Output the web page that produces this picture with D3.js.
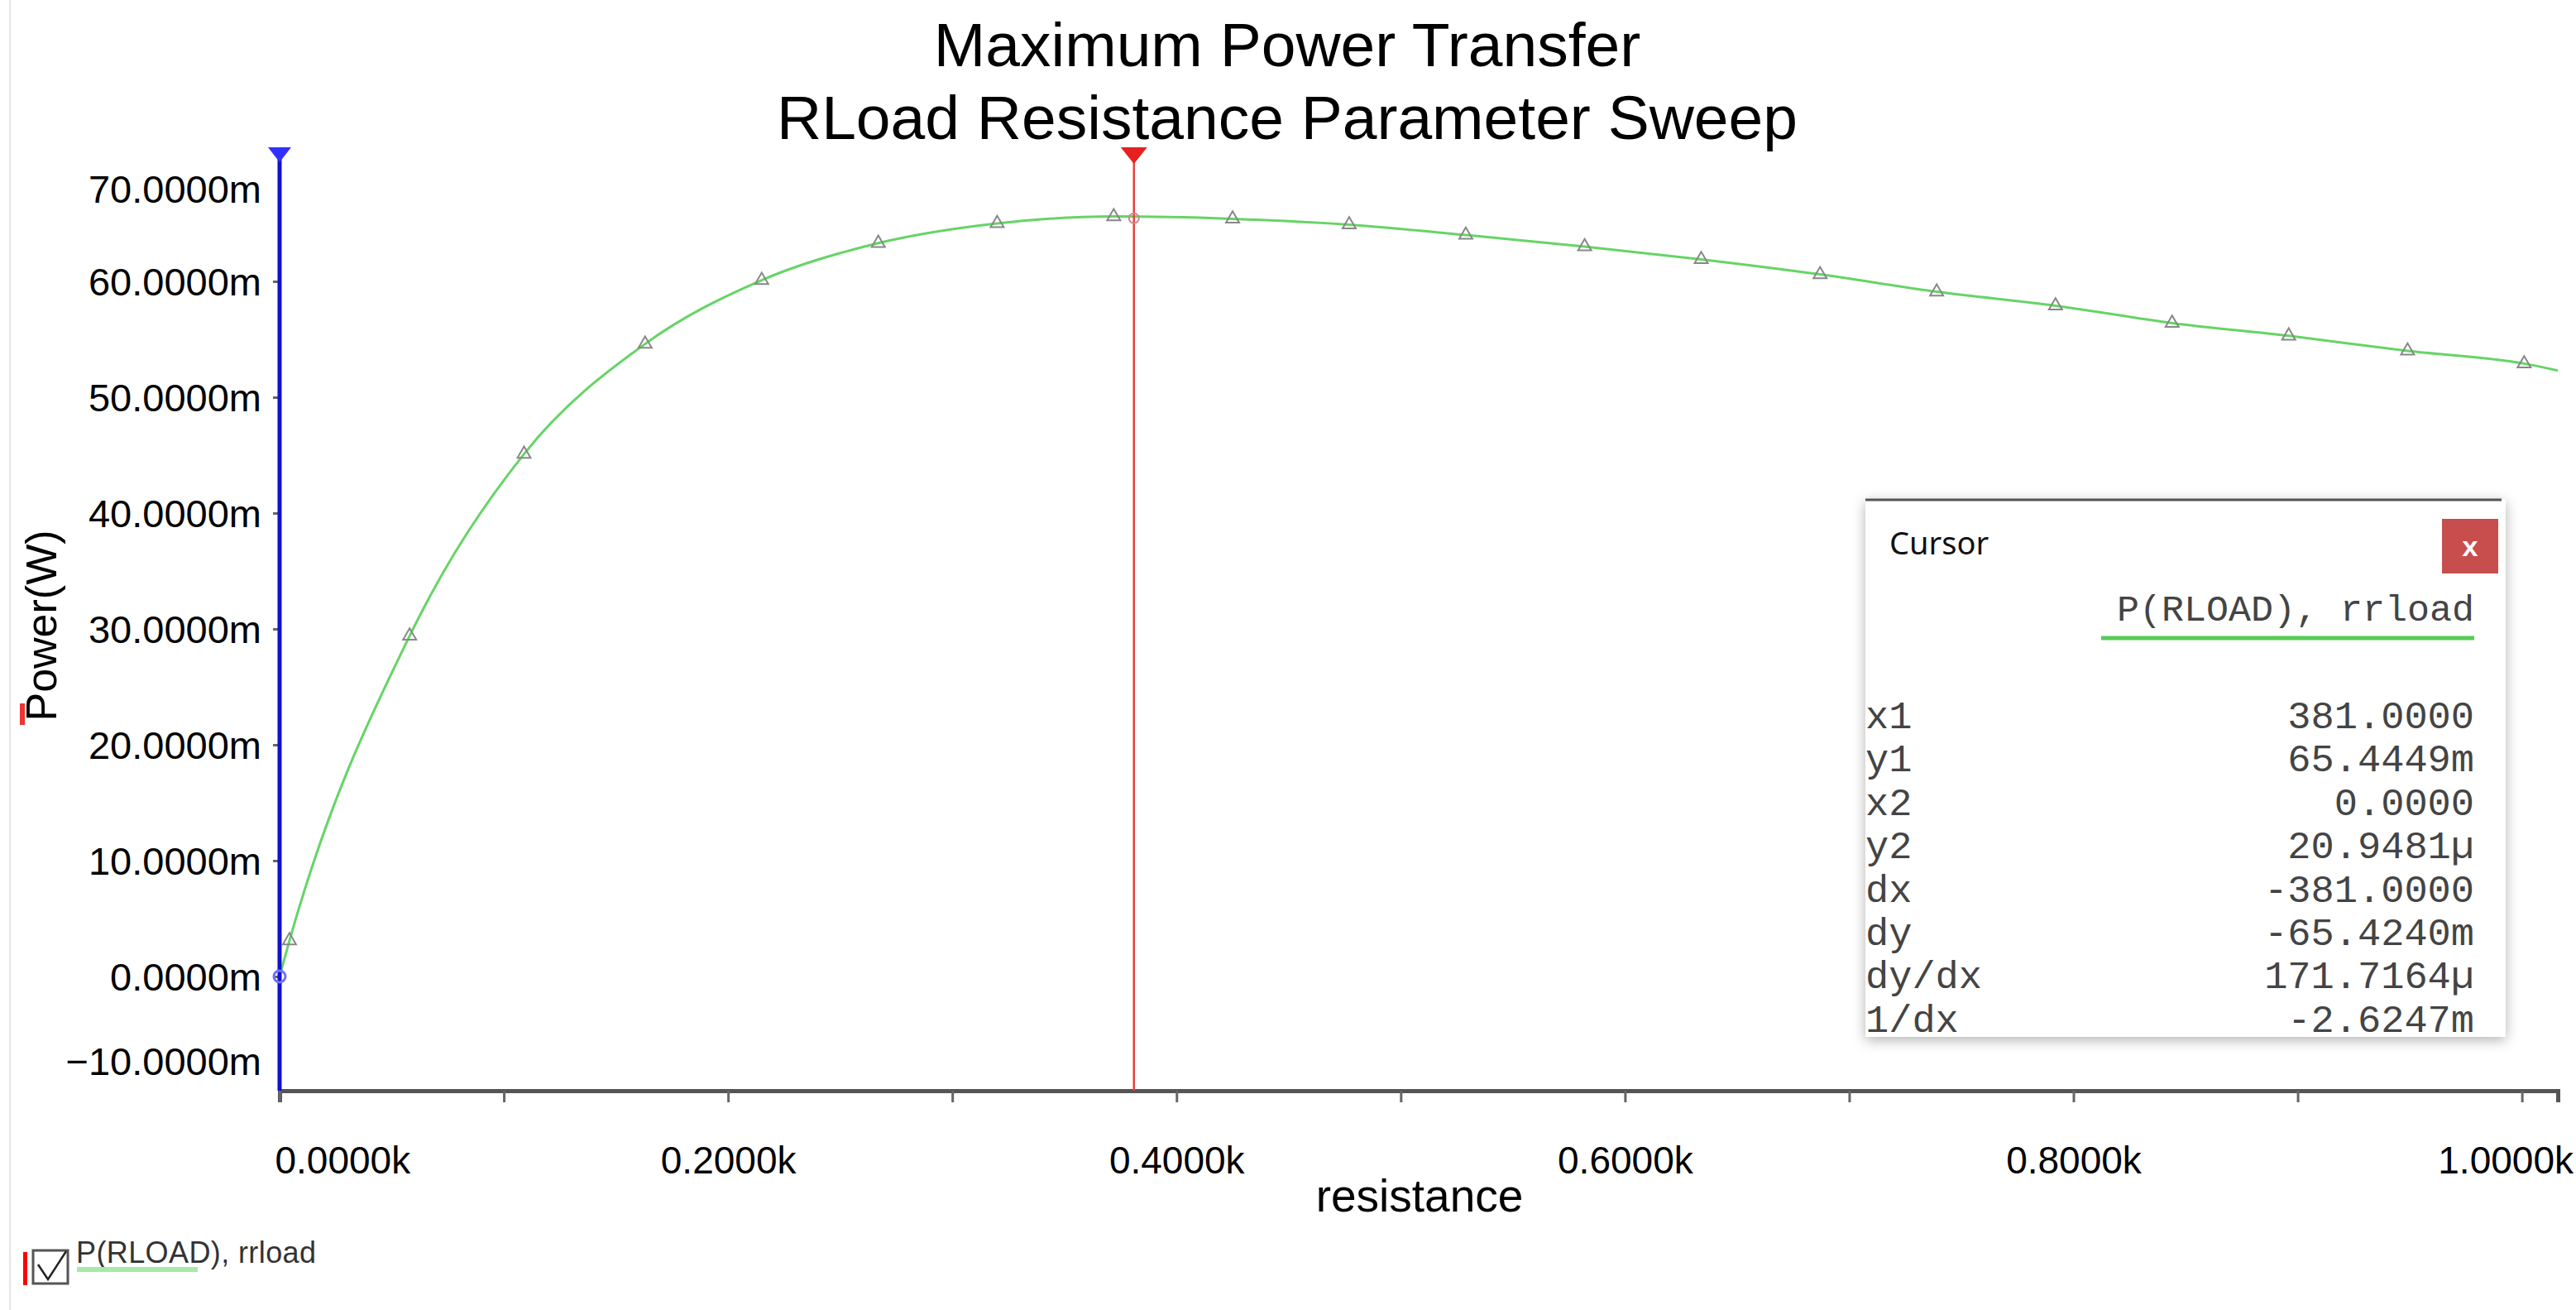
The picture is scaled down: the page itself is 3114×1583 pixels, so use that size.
<!DOCTYPE html>
<html><head><meta charset="utf-8">
<script src="https://cdn.jsdelivr.net/npm/d3@7"></script>
<style>body{margin:0;background:#fff}</style></head>
<body><svg id="c" width="3114" height="1583"></svg>
<script>
const resistance=[0,4.4,58,109,163,215,267,320,372,425,477,529,582,634,687,739,792,844,896,949,1001,1016];
const powerMilli=[0.02,3.1,29.4,45.1,54.6,60.1,63.3,65.0,65.6,65.4,64.9,64.0,63.0,61.9,60.6,59.1,57.9,56.4,55.3,54.0,52.9,52.3];
const yTicks=[-10,0,10,20,30,40,50,60,70];
const xTicks=[0,200,400,600,800,1000];
const cursorRows=[["x1","381.0000"],["y1","65.4449m"],["x2","0.0000"],["y2","20.9481\u00b5"],["dx","-381.0000"],["dy","-65.4240m"],["dy/dx","171.7164\u00b5"],["1/dx","-2.6247m"]];
const cursor1=381, cursor2=0;

const svg=d3.select("#c");
const L=338,R=3092,T=186,B=1318;
const x=d3.scaleLinear().domain([0,1016]).range([L,R]);
const y=d3.scaleLinear().domain([-9.86,71]).range([B,T]);
const F="Arial, 'Liberation Sans', sans-serif";

svg.append("line").attr("x1",12).attr("x2",12).attr("y1",0).attr("y2",1583).attr("stroke","#e6e6e6").attr("stroke-width",2);

svg.append("text").attr("x",1556).attr("y",80).attr("text-anchor","middle").attr("font-family",F).attr("font-size",75).text("Maximum Power Transfer");
svg.append("text").attr("x",1556).attr("y",168).attr("text-anchor","middle").attr("font-family",F).attr("font-size",75).text("RLoad Resistance Parameter Sweep");

// y axis
const ya=svg.append("g").attr("transform",`translate(${L},0)`).call(d3.axisLeft(y).tickValues(yTicks).tickSize(8).tickFormat(d=>d3.format(".4f")(d)+"m"));
ya.select(".domain").remove();
ya.selectAll("line").attr("stroke","#666").attr("stroke-width",3);
ya.selectAll("text").attr("font-family",F).attr("font-size",47).attr("fill","#000").attr("x",-22).attr("dy","0.35em");
ya.selectAll(".tick").filter(d=>d===70).select("text").attr("dy","0.95em");
ya.selectAll(".tick").filter(d=>d===-10).select("text").attr("dy","-0.45em");
ya.selectAll(".tick").filter(d=>d===70||d===-10).select("line").remove();

// x axis
const xa=svg.append("g").attr("transform",`translate(0,${B})`).call(d3.axisBottom(x).tickValues(d3.range(0,1001,100)).tickSize(14).tickFormat(d=>xTicks.includes(d)?d3.format(".4f")(d/1000)+"k":""));
xa.select(".domain").attr("stroke","#555").attr("stroke-width",5);
xa.selectAll("line").attr("stroke","#666").attr("stroke-width",3);
xa.selectAll("text").attr("font-family",F).attr("font-size",46).attr("fill","#000").attr("dy","1.8em");
xa.selectAll(".tick").filter(d=>d===0).select("text").attr("text-anchor","start").attr("dx","-6");
xa.selectAll(".tick").filter(d=>d===1000).select("text").attr("dx","-20");

svg.append("text").attr("x",1716).attr("y",1464).attr("text-anchor","middle").attr("font-family",F).attr("font-size",55).text("resistance");
svg.append("text").attr("transform","translate(68,756) rotate(-90)").attr("text-anchor","middle").attr("font-family",F).attr("font-size",52).text("Power(W)");
svg.append("rect").attr("x",24).attr("y",850).attr("width",6).attr("height",26).attr("fill","#e33");

// curve
const pts=resistance.map((r,i)=>[r,powerMilli[i]]);
svg.append("path").datum(pts).attr("fill","none").attr("stroke","#66d466").attr("stroke-width",3)
  .attr("d",d3.line().x(d=>x(d[0])).y(d=>y(d[1])).curve(d3.curveMonotoneX));
const tri=d3.symbol().type(d3.symbolTriangle).size(110);
svg.selectAll(".m").data(pts.slice(1,-1)).join("path").attr("d",tri)
  .attr("transform",d=>`translate(${x(d[0])},${y(d[1])})`).attr("fill","none").attr("stroke","#888").attr("stroke-width",2);

// cursors
svg.append("line").attr("x1",x(cursor2)).attr("x2",x(cursor2)).attr("y1",T).attr("y2",B).attr("stroke","#1010d0").attr("stroke-width",5);
svg.append("circle").attr("cx",x(cursor2)).attr("cy",y(0)).attr("r",7).attr("fill","none").attr("stroke","#7070ff").attr("stroke-width",3);
svg.append("path").attr("d",`M${x(cursor2)-14},${T-8}h28l-14,18z`).attr("fill","#3030ff");
svg.append("line").attr("x1",x(cursor1)).attr("x2",x(cursor1)).attr("y1",T).attr("y2",B).attr("stroke","#e84040").attr("stroke-width",2.5);
svg.append("path").attr("d",`M${x(cursor1)-16},${T-8}h32l-16,20z`).attr("fill","#e82020");
svg.append("circle").attr("cx",x(cursor1)).attr("cy",y(65.44)).attr("r",6).attr("fill","none").attr("stroke","#c88").attr("stroke-width",2);

// cursor box
const defs=svg.append("defs");
const f=defs.append("filter").attr("id","sh").attr("x","-10%").attr("y","-10%").attr("width","120%").attr("height","120%");
f.append("feDropShadow").attr("dx",0).attr("dy",4).attr("stdDeviation",8).attr("flood-color","#000").attr("flood-opacity",0.3);
svg.append("rect").attr("x",2255).attr("y",603).attr("width",774).attr("height",650).attr("fill","#fff").attr("filter","url(#sh)");
svg.append("line").attr("x1",2255).attr("x2",3024).attr("y1",604).attr("y2",604).attr("stroke","#555").attr("stroke-width",3);
svg.append("rect").attr("x",2952).attr("y",627).attr("width",68).attr("height",66).attr("fill","#c84e4e");
svg.append("text").attr("x",2986).attr("y",672).attr("text-anchor","middle").attr("font-family","'Liberation Mono', monospace").attr("font-weight","bold").attr("font-size",34).attr("fill","#fff").text("x");
svg.append("text").attr("x",2284).attr("y",670).attr("font-family","'Noto Sans', 'Open Sans', sans-serif").attr("font-size",38).attr("fill","#111").text("Cursor");
svg.append("text").attr("x",2991).attr("y",750).attr("text-anchor","end").attr("font-family","'Liberation Mono', monospace").attr("font-size",45).attr("fill","#444").text("P(RLOAD), rrload");
svg.append("line").attr("x1",2540).attr("x2",2991).attr("y1",771).attr("y2",771).attr("stroke","#55cc55").attr("stroke-width",5);
const rows=svg.selectAll(".row").data(cursorRows).join("g").attr("transform",(d,i)=>`translate(0,${880+i*52.4})`);
rows.append("text").attr("x",2255).attr("font-family","'Liberation Mono', monospace").attr("font-size",47).attr("fill","#444").text(d=>d[0]);
rows.append("text").attr("x",2991).attr("text-anchor","end").attr("font-family","'Liberation Mono', monospace").attr("font-size",47).attr("fill","#444").text(d=>d[1]);

// legend
svg.append("rect").attr("x",28).attr("y",1513).attr("width",5).attr("height",40).attr("fill","#f00");
svg.append("rect").attr("x",40).attr("y",1511).attr("width",42).attr("height",40).attr("fill","#fff").attr("stroke","#555").attr("stroke-width",3);
svg.append("path").attr("d","M46,1528 L58,1546 L80,1512").attr("fill","none").attr("stroke","#222").attr("stroke-width",2.5);
svg.append("text").attr("x",92).attr("y",1526).attr("font-family",F).attr("font-size",36).attr("fill","#333").attr("textLength",290).text("P(RLOAD), rrload");
svg.append("rect").attr("x",93).attr("y",1531).attr("width",146).attr("height",6).attr("fill","#a8e8a8");
</script></body></html>
